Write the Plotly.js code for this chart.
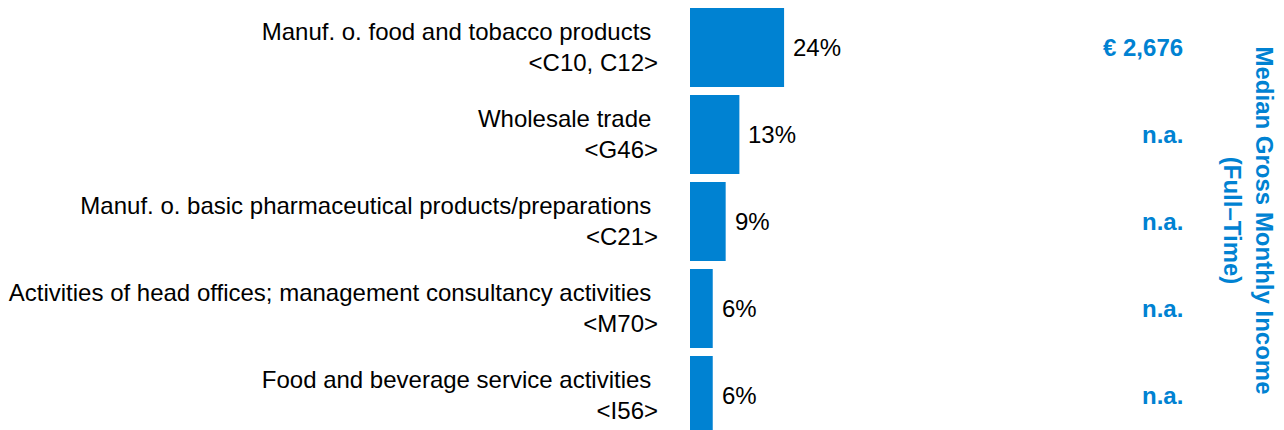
<!DOCTYPE html>
<html>
<head>
<meta charset="utf-8">
<script src="https://cdn.plot.ly/plotly-3.0.1.min.js"></script>
<style>
html, body { margin: 0; padding: 0; background: #fff; }
#chart { width: 1284px; height: 430px; }
</style>
</head>
<body>
<div id="chart"></div>
<script>
// ---- data ----
const categoryNames = [
  "Manuf. o. food and tobacco products",
  "Wholesale trade",
  "Manuf. o. basic pharmaceutical products/preparations",
  "Activities of head offices; management consultancy activities",
  "Food and beverage service activities"
];
const categoryCodes = ["<C10, C12>", "<G46>", "<C21>", "<M70>", "<I56>"];
const shareValues = [24.0, 12.6, 9.1, 5.8, 5.8];
const shareLabels = ["24%", "13%", "9%", "6%", "6%"];
const medianIncome = ["€ 2,676", "n.a.", "n.a.", "n.a.", "n.a."];
const incomeTitle = "Median Gross Monthly Income<br>(Full–Time)";

// ---- drawing ----
const BLUE = "#0082D2";
const FONT = "Liberation Sans, Arial, sans-serif";
const esc = s => s.replace(/&/g, "&amp;").replace(/</g, "&lt;").replace(/>/g, "&gt;");

const idx = categoryNames.map((_, i) => i);
const tickText = categoryNames.map((n, i) => esc(n) + "\u00a0<br>" + esc(categoryCodes[i]));

const trace = {
  type: "bar",
  orientation: "h",
  x: shareValues,
  y: idx,
  width: 0.908,
  marker: { color: BLUE, line: { width: 0 } },
  hoverinfo: "skip"
};

const annotations = [];
idx.forEach(i => {
  annotations.push({
    x: shareValues[i], y: i, xref: "x", yref: "y",
    text: shareLabels[i], showarrow: false,
    xanchor: "left", yanchor: "middle", xshift: 7,
    font: { family: FONT, size: 24, color: "#000" }
  });
  annotations.push({
    x: (1185 - 690) / 594, y: i, xref: "paper", yref: "y",
    text: "<b>" + medianIncome[i] + "</b>", showarrow: false,
    xanchor: "right", yanchor: "middle",
    font: { family: FONT, size: 24, color: BLUE }
  });
});
annotations.push({
  x: (1248 - 690) / 594, y: (430 - 220.5) / 426, xref: "paper", yref: "paper",
  text: "<b>" + incomeTitle + "</b>", showarrow: false, textangle: 90,
  xanchor: "center", yanchor: "middle", align: "center",
  font: { family: FONT, size: 24, color: BLUE }
});

const layout = {
  width: 1284, height: 430,
  margin: { l: 690, r: 0, t: 4, b: 0, pad: 0 },
  paper_bgcolor: "#fff", plot_bgcolor: "#fff",
  showlegend: false,
  xaxis: { visible: false, range: [0, 594 / 3.92], fixedrange: true },
  yaxis: {
    range: [4.397, -0.5],
    tickmode: "array", tickvals: idx, ticktext: tickText,
    ticks: "", showgrid: false, zeroline: false, showline: false,
    ticklabelstandoff: 31,
    tickfont: { family: FONT, size: 24, color: "#000" },
    fixedrange: true
  },
  annotations: annotations
};

Plotly.newPlot("chart", [trace], layout, { displayModeBar: false, staticPlot: true });
</script>
</body>
</html>
